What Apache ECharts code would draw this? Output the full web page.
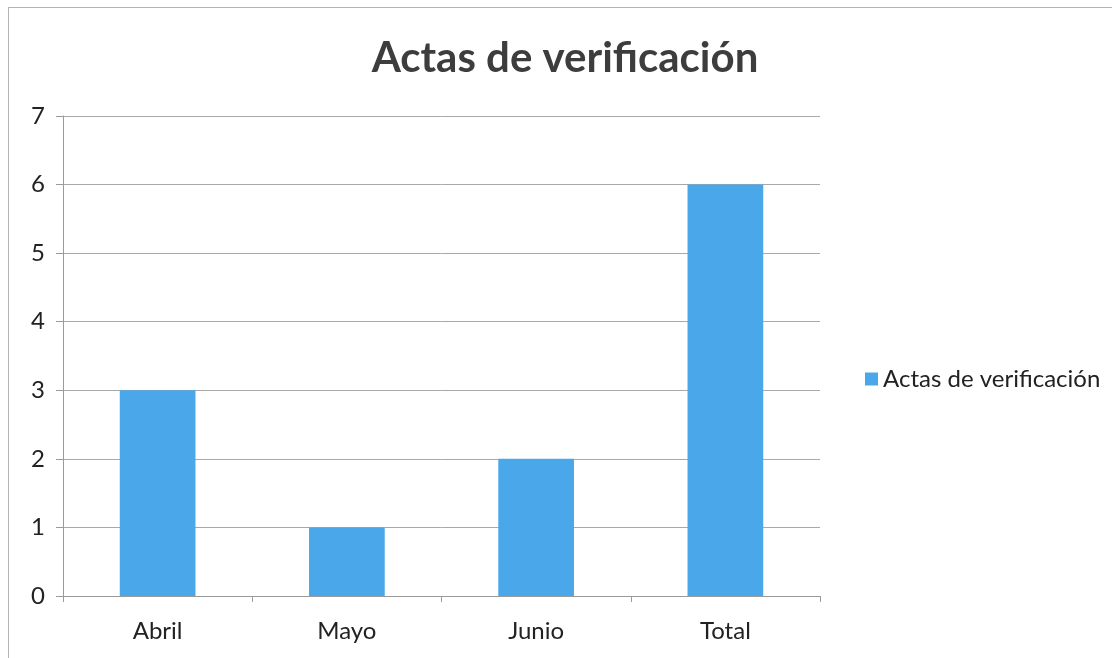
<!DOCTYPE html>
<html>
<head>
<meta charset="utf-8">
<script src="https://cdn.jsdelivr.net/npm/echarts@6/dist/echarts.min.js"></script>
<style>
  html, body { margin: 0; padding: 0; background: #fff; }
  .frame {
    position: absolute; left: 8px; top: 7px;
    width: 1104px; height: 651px;
    border-left: 1px solid #b5b5b5; border-top: 1px solid #b5b5b5;
  }
  #chart { position: absolute; left: 0; top: 0; width: 1112px; height: 658px; }
</style>
</head>
<body>
<div class="frame"></div>
<div id="chart"></div>
<script>
  var categories = ['Abril', 'Mayo', 'Junio', 'Total']
  var values = [3, 1, 2, 6]
  var seriesName = 'Actas de verificación'
  var titleText = 'Actas de verificación'

  var myChart = echarts.init(document.getElementById('chart'))
  var font = 'Lato, "Open Sans", sans-serif'
  var option = {
    animation: false,
    title: {
      text: titleText,
      left: 560,
      textAlign: 'center',
      top: 32,
      textStyle: { fontFamily: font, fontSize: 42, fontWeight: 'bold', color: '#3d3d3d' }
    },
    legend: {
      data: [seriesName],
      left: 860,
      top: 362,
      itemWidth: 13,
      itemHeight: 13,
      itemGap: 6,
      icon: 'rect',
      textStyle: { fontFamily: font, fontSize: 24, color: '#222' }
    },
    grid: { left: 63, right: 292, top: 116, bottom: 62 },
    xAxis: {
      type: 'category',
      data: categories,
      axisLine: { lineStyle: { color: '#9a9a9a' } },
      axisTick: { show: true, length: 6, lineStyle: { color: '#9a9a9a' } },
      axisLabel: { fontFamily: font, fontSize: 24, color: '#222', margin: 23 }
    },
    yAxis: {
      type: 'value',
      min: 0,
      max: 7,
      interval: 1,
      axisLine: { show: true, lineStyle: { color: '#9a9a9a' } },
      axisTick: { show: true, length: 7, lineStyle: { color: '#9a9a9a' } },
      axisLabel: { fontFamily: font, fontSize: 24, color: '#222', margin: 18 },
      splitLine: { lineStyle: { color: '#a8a8a8', width: 1 } }
    },
    series: [{
      name: seriesName,
      type: 'bar',
      data: values,
      barWidth: '40%',
      itemStyle: { color: '#4aa8ea' }
    }]
  }
  myChart.setOption(option)
</script>
</body>
</html>
